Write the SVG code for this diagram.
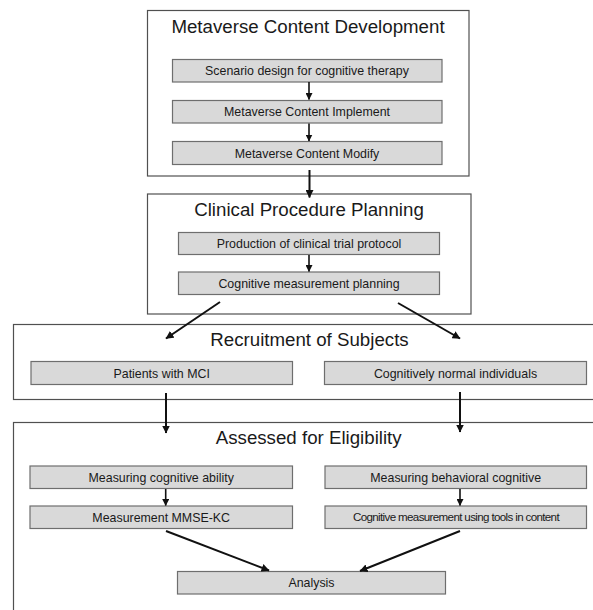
<svg xmlns="http://www.w3.org/2000/svg" width="593" height="610" viewBox="0 0 593 610">
<defs>
<style>
.outer{fill:#ffffff;stroke:#505050;stroke-width:1.2}
.box{fill:#d9d9d9;stroke:#6e6e6e;stroke-width:1.2}
.title{font-family:"Liberation Sans",Arial,sans-serif;font-size:18.7px;fill:#1a1a1a;text-anchor:middle}
.lbl{font-family:"Liberation Sans",Arial,sans-serif;font-size:12.4px;fill:#1a1a1a;text-anchor:middle}
.tight{font-size:11.6px;letter-spacing:-0.65px}
.con{stroke:#111;fill:none;stroke-width:2;marker-end:url(#ah)}
.con.s{stroke-width:1.6;marker-end:url(#ahs)}
</style>
<marker id="ah" markerUnits="userSpaceOnUse" viewBox="0 0 8 8" markerWidth="8" markerHeight="8" refX="7.5" refY="4" orient="auto">
<path d="M0,0 L8,4 L0,8 z" fill="#111"/>
</marker>
<marker id="ahs" markerUnits="userSpaceOnUse" viewBox="0 0 7 7" markerWidth="7" markerHeight="7" refX="6.5" refY="3.5" orient="auto">
<path d="M0,0 L7,3.5 L0,7 z" fill="#111"/>
</marker>
</defs>
<rect width="593" height="610" fill="#ffffff"/>

<g id="metaverse-content-development">
<rect class="outer" x="147.5" y="10.5" width="321.5" height="165.5"/>
<text class="title" x="308" y="33">Metaverse Content Development</text>
</g>
<g id="scenario-design">
<rect class="box" x="172.5" y="59.5" width="269.5" height="22.5"/>
<text class="lbl" x="307" y="75">Scenario design for cognitive therapy</text>
</g>
<g id="content-implement">
<rect class="box" x="172.5" y="100.5" width="269.5" height="22.5"/>
<text class="lbl" x="307" y="116">Metaverse Content Implement</text>
</g>
<g id="content-modify">
<rect class="box" x="172.5" y="141.5" width="269.5" height="23"/>
<text class="lbl" x="307" y="157.5">Metaverse Content Modify</text>
</g>

<g id="clinical-procedure-planning">
<rect class="outer" x="147.5" y="194" width="323.5" height="120"/>
<text class="title" x="309" y="215.5">Clinical Procedure Planning</text>
</g>
<g id="trial-protocol">
<rect class="box" x="178.5" y="232.5" width="261" height="22"/>
<text class="lbl" x="309" y="248">Production of clinical trial protocol</text>
</g>
<g id="measurement-planning">
<rect class="box" x="178.5" y="272" width="261" height="22.5"/>
<text class="lbl" x="309" y="287.8">Cognitive measurement planning</text>
</g>

<g id="recruitment-of-subjects">
<rect class="outer" x="13.5" y="324.5" width="600" height="75"/>
<text class="title" x="309.5" y="346">Recruitment of Subjects</text>
</g>
<g id="patients-mci">
<rect class="box" x="31" y="361.5" width="261.5" height="23"/>
<text class="lbl" x="161.7" y="377.5">Patients with MCI</text>
</g>
<g id="normal-individuals">
<rect class="box" x="324.5" y="361.5" width="262" height="23"/>
<text class="lbl" x="455.5" y="377.5">Cognitively normal individuals</text>
</g>

<g id="assessed-for-eligibility">
<rect class="outer" x="13.5" y="422.5" width="600" height="200"/>
<text class="title" x="308.7" y="444">Assessed for Eligibility</text>
</g>
<g id="measuring-cognitive-ability">
<rect class="box" x="30" y="466" width="262.5" height="22.5"/>
<text class="lbl" x="161.2" y="481.5">Measuring cognitive ability</text>
</g>
<g id="measuring-behavioral-cognitive">
<rect class="box" x="325" y="466" width="261.5" height="22.5"/>
<text class="lbl" x="455.7" y="481.5">Measuring behavioral cognitive</text>
</g>
<g id="mmse-kc">
<rect class="box" x="30" y="506" width="262.5" height="22.5"/>
<text class="lbl" x="161.2" y="521.5">Measurement MMSE-KC</text>
</g>
<g id="tools-in-content">
<rect class="box" x="325" y="506" width="261.5" height="22.5"/>
<text class="lbl tight" x="456" y="521.3">Cognitive measurement using tools in content</text>
</g>
<g id="analysis">
<rect class="box" x="177.5" y="571.5" width="268" height="22.5"/>
<text class="lbl" x="311.5" y="587">Analysis</text>
</g>

<g id="connectors">
<line class="con s" x1="309" y1="82" x2="309" y2="99.5"/>
<line class="con s" x1="309" y1="123.5" x2="309" y2="141"/>
<line class="con" x1="309.5" y1="170" x2="309.5" y2="197.5"/>
<line class="con s" x1="309" y1="255" x2="309" y2="271.5"/>
<line class="con" x1="220" y1="302" x2="166" y2="338.5"/>
<line class="con" x1="398" y1="303" x2="460" y2="338.5"/>
<line class="con" x1="166" y1="393" x2="166" y2="433"/>
<line class="con" x1="460" y1="392" x2="460" y2="432"/>
<line class="con s" x1="165.7" y1="489" x2="165.7" y2="505.5"/>
<line class="con s" x1="460" y1="489" x2="460" y2="505.5"/>
<line class="con" x1="166" y1="531" x2="269" y2="570.5"/>
<line class="con" x1="460" y1="531" x2="360" y2="571"/>
</g>
</svg>
